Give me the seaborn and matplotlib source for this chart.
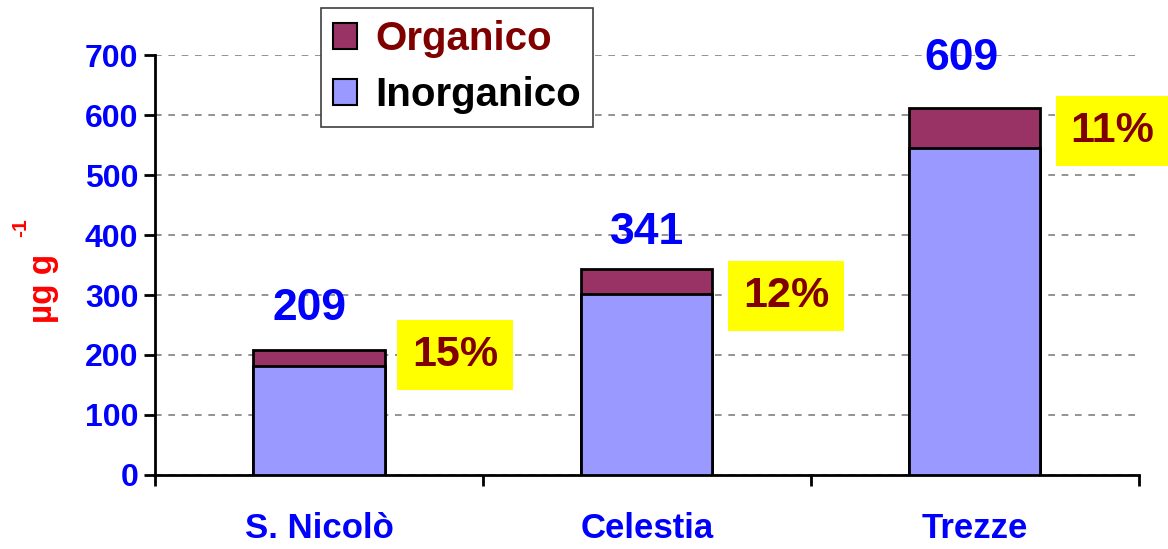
import matplotlib
matplotlib.use("Agg")
import matplotlib.pyplot as plt
import seaborn as sns
import pandas as pd
import numpy as np
from matplotlib.patches import Patch

sites = ["S. Nicolò", "Celestia", "Trezze"]
inorganico = [182, 302, 545]
organico = [27, 41, 67]
totals = [209, 341, 609]
percent_labels = ["15%", "12%", "11%"]
yticks = [0, 100, 200, 300, 400, 500, 600, 700]

sns.set_theme(style="white")
plt.rcParams['font.family'] = ['Liberation Sans', 'DejaVu Sans']
plt.rcParams['font.weight'] = 'bold'

df = pd.DataFrame({"site": sites, "inorg": inorganico,
                   "total": [i + o for i, o in zip(inorganico, organico)]})

fig = plt.figure(figsize=(11.68, 5.49), dpi=100)
ax = fig.add_axes([0.1327, 0.1348, 0.975 - 0.1327, 0.8998 - 0.1348])

c_org = "#993366"
c_inorg = "#9999FF"
sns.barplot(data=df, x="site", y="total", color=c_org, saturation=1,
            width=0.4, edgecolor="black", linewidth=2, ax=ax, zorder=3)
sns.barplot(data=df, x="site", y="inorg", color=c_inorg, saturation=1,
            width=0.4, edgecolor="black", linewidth=2, ax=ax, zorder=4)

ax.set_xlim(-0.5, 2.5)
ax.set_ylim(0, 700)
ax.set_yticks(yticks)
ax.set_yticklabels([str(v) for v in yticks], color="#0000FF",
                   fontsize=23, fontweight="bold")
ax.yaxis.grid(True, linestyle=(0, (4, 4)), color="#808080", linewidth=1.2, zorder=0)
ax.set_axisbelow(True)
ax.tick_params(axis="y", direction="out", length=8, width=2, color="black",
               left=True, pad=4)
ax.set_xticks(range(len(sites)))
ax.set_xticklabels(sites, color="#0000FF", fontsize=25, fontweight="bold")
ax.set_xticks([-0.5, 0.5, 1.5, 2.5], minor=True)
ax.tick_params(axis="x", which="major", length=0, pad=27)
ax.tick_params(axis="x", which="minor", direction="out", length=8, width=2,
               color="black", bottom=True)
ax.set_xlabel("")
ax.set_ylabel("µg g", color="#FF0000", fontsize=24, fontweight="bold")
ax.yaxis.set_label_coords(-0.098, 0.445)
fig.text(0.018, 0.585, "-1", color="#FF0000", fontsize=15, fontweight="bold",
         rotation=90, ha="center", va="center")

for side in ["top", "right"]:
    ax.spines[side].set_visible(False)
for side in ["left", "bottom"]:
    ax.spines[side].set_color("black")
    ax.spines[side].set_linewidth(2)

# total labels
tot_offsets = [(-0.03, 278), (0.0, 405), (-0.04, 695)]
for i, t in enumerate(totals):
    dx, yy = tot_offsets[i]
    ax.text(i + dx, yy, str(t), color="#0000FF", fontsize=32, fontweight="bold",
            ha="center", va="center", zorder=6)

# percent boxes
pct_pos = [(0.415, 200), (1.424, 298), (2.42, 573)]
for (px, py), lab in zip(pct_pos, percent_labels):
    ax.text(px, py, lab, color="#800000", fontsize=31, fontweight="bold",
            ha="center", va="center", zorder=6, clip_on=False,
            bbox=dict(boxstyle="square,pad=0.35", facecolor="#FFFF00",
                      edgecolor="none"))

handles = [Patch(facecolor=c_org, edgecolor="black", linewidth=1.5, label="Organico"),
           Patch(facecolor=c_inorg, edgecolor="black", linewidth=1.5, label="Inorganico")]
leg = fig.legend(handles=handles, loc="upper left", bbox_to_anchor=(0.275, 0.985),
                 prop={"size": 29, "weight": "bold"}, frameon=True, fancybox=False,
                 framealpha=1, edgecolor="#404040", handlelength=0.6, handleheight=0.6,
                 handletextpad=0.45, borderpad=0.3, labelspacing=0.45,
                 borderaxespad=0)
leg.get_frame().set_linewidth(1.2)
leg.get_texts()[0].set_color("#800000")
leg.get_texts()[1].set_color("black")

fig.savefig("out.png", dpi=100)
